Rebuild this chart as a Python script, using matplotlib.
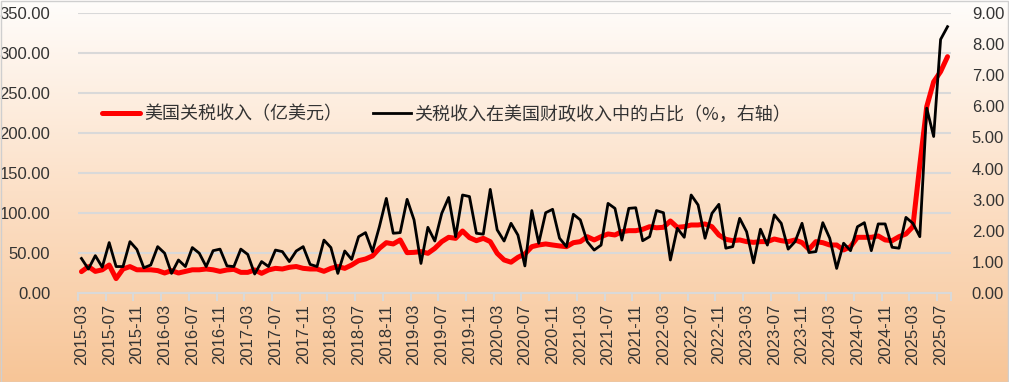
import numpy as np
import pandas as pd
import matplotlib
matplotlib.use("Agg")
import matplotlib.pyplot as plt
from matplotlib.ticker import FormatStrFormatter, FixedLocator
from matplotlib.colors import LinearSegmentedColormap

# monthly, 2015-03 .. 2025-08
months = pd.period_range("2015-03", "2025-08", freq="M").strftime("%Y-%m").tolist()

# US customs duties (100 million USD)
tariff = [
    26.7, 33.0, 27.0, 29.0, 35.0, 18.0, 30.0, 33.0, 29.0, 29.0,
    29.0, 28.0, 25.0, 28.0, 25.0, 27.0, 29.0, 29.0, 30.0, 29.0,
    27.0, 28.8, 29.6, 25.8, 25.8, 28.8, 24.6, 28.8, 30.8, 30.0,
    32.1, 33.1, 30.8, 30.0, 30.0, 27.1, 30.8, 33.1, 30.8, 35.0,
    40.4, 42.5, 46.3, 55.8, 62.9, 61.3, 66.3, 50.4, 50.8, 51.7,
    49.6, 55.8, 64.2, 69.6, 68.3, 77.5, 69.2, 65.4, 68.3, 64.2,
    49.6, 41.3, 38.5, 44.6, 48.8, 57.9, 60.0, 61.3, 60.0, 58.8,
    57.9, 62.9, 64.2, 70.4, 66.3, 70.4, 73.8, 72.5, 76.7, 77.9,
    77.9, 79.6, 82.9, 81.5, 82.1, 90.0, 82.1, 82.9, 85.0, 85.0,
    86.3, 82.9, 72.5, 67.1, 65.4, 66.3, 64.2, 63.3, 64.2, 64.2,
    67.5, 65.4, 64.2, 66.3, 63.0, 54.6, 64.2, 62.9, 60.0, 60.0,
    53.8, 57.9, 69.6, 69.6, 69.6, 71.3, 66.3, 65.4, 70.4, 73.8,
    82.9, 160.0, 233.0, 264.0, 276.7, 295.4,
]

# share of customs duties in federal receipts (%)
share = [
    1.11, 0.77, 1.20, 0.83, 1.62, 0.85, 0.85, 1.65, 1.40, 0.81,
    0.90, 1.49, 1.28, 0.63, 1.06, 0.85, 1.46, 1.28, 0.85, 1.36,
    1.41, 0.87, 0.85, 1.41, 1.24, 0.61, 1.01, 0.85, 1.38, 1.33,
    1.01, 1.35, 1.49, 0.92, 0.85, 1.70, 1.46, 0.63, 1.35, 1.08,
    1.81, 1.94, 1.33, 2.13, 3.04, 1.92, 1.94, 3.01, 2.35, 0.95,
    2.11, 1.67, 2.56, 3.07, 1.81, 3.15, 3.10, 1.92, 1.89, 3.33,
    2.03, 1.67, 2.24, 1.86, 0.87, 2.65, 1.60, 2.58, 2.69, 1.76,
    1.49, 2.53, 2.35, 1.65, 1.38, 1.54, 2.88, 2.72, 1.70, 2.72,
    2.74, 1.68, 1.81, 2.65, 2.58, 1.06, 2.08, 1.79, 3.15, 2.83,
    1.76, 2.56, 2.85, 1.44, 1.49, 2.40, 1.97, 0.97, 2.05, 1.54,
    2.51, 2.24, 1.41, 1.65, 2.24, 1.30, 1.33, 2.26, 1.76, 0.79,
    1.60, 1.36, 2.13, 2.26, 1.36, 2.22, 2.22, 1.47, 1.44, 2.43,
    2.24, 1.81, 5.94, 5.03, 8.15, 8.56,
]

plt.rcParams['font.family'] = ['Liberation Sans', 'DejaVu Sans']
txt = '#333333'
grid_c = '#D9D9D9'

fig = plt.figure(figsize=(10.09, 3.82), dpi=100)

# gradient background
bg = fig.add_axes([0, 0, 1, 1], zorder=-10)
grad = np.linspace(0, 1, 256).reshape(-1, 1)
cmap = LinearSegmentedColormap.from_list("peach", ["#FFFDFB", "#FCE0C7", "#F7C597"])
bg.imshow(grad, aspect='auto', cmap=cmap, extent=[0, 1, 0, 1], origin='upper')
bg.axis('off')
fig.patches.append(plt.Rectangle((0.0005, 0.0013), 0.999, 0.997, transform=fig.transFigure,
                                 fill=False, edgecolor='#CFCFCF', lw=1))

x = np.arange(len(months))

ax = fig.add_axes([0.0773, 0.233, 0.8652, 0.733])
ax.patch.set_alpha(0)
l1, = ax.plot(x, tariff, color='#FF0000', lw=3.6, solid_joinstyle='round',
              solid_capstyle='round', label='美国关税收入（亿美元）')
ax.set_ylim(0, 350)
ax.set_yticks(range(0, 351, 50))
ax.yaxis.set_major_formatter(FormatStrFormatter('%.2f'))
ax.grid(axis='y', color=grid_c, lw=1.5)
ax.set_axisbelow(True)
ax.set_xlim(-0.5, len(months) - 0.5)
ax.set_xticks(x[::4])
ax.set_xticklabels(months[::4], rotation=90)
ax.xaxis.set_minor_locator(FixedLocator(list(np.arange(-0.5, len(months), 4)) + [len(months) - 0.5]))
ax.tick_params(axis='x', which='major', length=0, pad=8, labelsize=12, labelcolor=txt)
ax.tick_params(axis='x', which='minor', length=6, color=grid_c, width=1.5)
ax.tick_params(axis='y', length=0, pad=20, labelsize=12, labelcolor=txt)
for s in ['top', 'right', 'left']:
    ax.spines[s].set_visible(False)
ax.spines['bottom'].set_color(grid_c)
ax.spines['bottom'].set_linewidth(1.5)

ax2 = ax.twinx()
l2, = ax2.plot(x, share, color='black', lw=2.0, solid_joinstyle='round',
               label='关税收入在美国财政收入中的占比（%，右轴）')
ax2.set_ylim(0, 9)
ax2.set_yticks(range(0, 10))
ax2.yaxis.set_major_formatter(FormatStrFormatter('%.2f'))
ax2.tick_params(axis='y', length=0, pad=15, labelsize=12, labelcolor=txt)
for s in ax2.spines.values():
    s.set_visible(False)

ax2.legend(handles=[l1, l2], loc='center left', bbox_to_anchor=(0.028, 0.638), ncol=2,
           frameon=False, borderaxespad=0, borderpad=0, handlelength=2.1,
           handletextpad=0.2, columnspacing=1.7,
           prop={'family': ['Noto Sans CJK SC', 'DejaVu Sans'], 'size': 13},
           labelcolor=txt)

fig.savefig('out.png', dpi=100)
